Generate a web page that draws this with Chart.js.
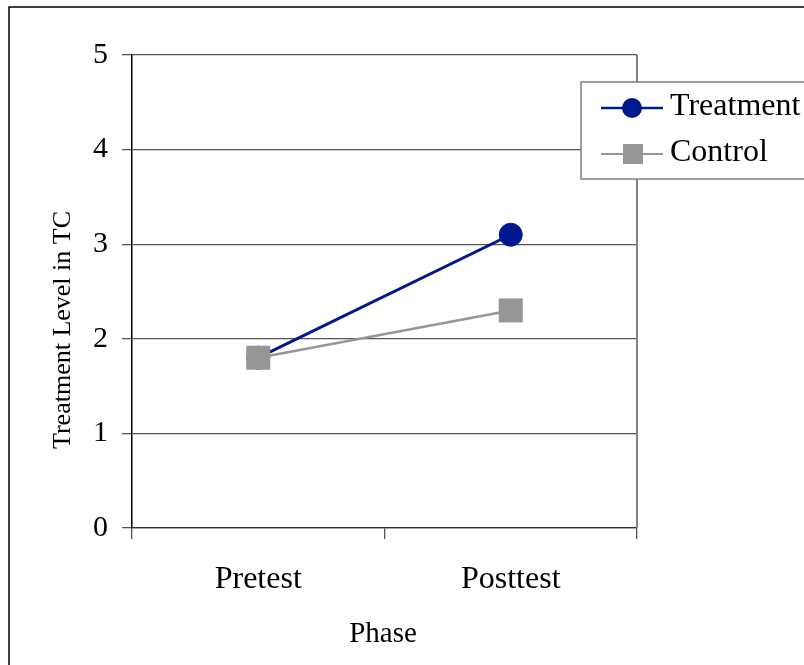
<!DOCTYPE html>
<html>
<head>
<meta charset="utf-8">
<script src="https://cdn.jsdelivr.net/npm/chart.js@4"></script>
<style>
  html, body { margin: 0; padding: 0; background: #fff; }
  #wrap { width: 804px; height: 665px; }
</style>
</head>
<body>
<div id="wrap"><canvas id="phaseChart" width="804" height="665"></canvas></div>
<script>
const phases = ['Pretest', 'Posttest'];
const treatmentValues = [1.8, 3.1];
const controlValues = [1.8, 2.3];
const yTicks = [0, 1, 2, 3, 4, 5];
const yTitle = 'Treatment Level in TC';
const xTitle = 'Phase';

const navy = '#00188f';
const gray = '#969696';
const serif = '"Liberation Serif", "Times New Roman", serif';

// frame, legend box and axis titles drawn on top
const framePlugin = {
  id: 'frame',
  afterDraw(chart) {
    const ctx = chart.ctx;
    const area = chart.chartArea;
    ctx.save();

    // outer border (only top and left show in the picture)
    ctx.strokeStyle = '#000';
    ctx.lineWidth = 1.5;
    ctx.beginPath();
    ctx.moveTo(9, 670);
    ctx.lineTo(9, 7);
    ctx.lineTo(810, 7);
    ctx.stroke();

    // right edge of plot area
    ctx.strokeStyle = '#808080';
    ctx.lineWidth = 2;
    ctx.beginPath();
    ctx.moveTo(area.right, area.top);
    ctx.lineTo(area.right, area.bottom);
    ctx.stroke();

    // legend
    ctx.fillStyle = '#fff';
    ctx.fillRect(581, 82, 240, 97);
    ctx.strokeStyle = '#808080';
    ctx.lineWidth = 1.5;
    ctx.strokeRect(581, 82, 240, 97);

    ctx.font = '32px ' + serif;
    ctx.textBaseline = 'middle';
    ctx.textAlign = 'left';

    ctx.strokeStyle = navy;
    ctx.lineWidth = 2.5;
    ctx.beginPath();
    ctx.moveTo(601, 108);
    ctx.lineTo(663, 108);
    ctx.stroke();
    ctx.fillStyle = navy;
    ctx.beginPath();
    ctx.arc(632, 108, 10, 0, Math.PI * 2);
    ctx.fill();
    ctx.fillStyle = '#000';
    ctx.fillText(chart.data.datasets[0].label, 670, 107);

    ctx.strokeStyle = gray;
    ctx.lineWidth = 2;
    ctx.beginPath();
    ctx.moveTo(601, 154);
    ctx.lineTo(663, 154);
    ctx.stroke();
    ctx.fillStyle = gray;
    ctx.fillRect(623, 144, 20, 20);
    ctx.fillStyle = '#000';
    ctx.fillText(chart.data.datasets[1].label, 670, 153);

    // axis titles
    ctx.textAlign = 'center';
    ctx.font = '29px ' + serif;
    ctx.fillText(xTitle, 383, 634);
    ctx.font = '26px ' + serif;
    ctx.translate(63, 330);
    ctx.rotate(-Math.PI / 2);
    ctx.fillText(yTitle, 0, 0);

    ctx.restore();
  }
};

const ctx = document.getElementById('phaseChart').getContext('2d');

const myChart = new Chart(ctx, {
  type: 'line',
  data: {
    labels: phases,
    datasets: [{
      label: 'Treatment',
      data: treatmentValues,
      borderColor: navy,
      backgroundColor: navy,
      borderWidth: 3,
      pointStyle: 'circle',
      pointRadius: 11.5,
      pointBorderWidth: 1,
      pointBorderColor: navy,
      pointBackgroundColor: navy,
      tension: 0,
      order: 1
    }, {
      label: 'Control',
      data: controlValues,
      borderColor: gray,
      backgroundColor: gray,
      borderWidth: 2.5,
      pointStyle: 'rect',
      pointRadius: 17,
      pointBorderWidth: 0,
      pointBackgroundColor: gray,
      tension: 0,
      order: 0
    }]
  },
  options: {
    responsive: false,
    devicePixelRatio: 1,
    animation: false,
    layout: { padding: { top: 55, right: 167, left: 0, bottom: 0 } },
    plugins: {
      legend: { display: false },
      tooltip: { enabled: false }
    },
    scales: {
      x: {
        offset: true,
        grid: {
          offset: true,
          drawOnChartArea: false,
          drawTicks: true,
          tickLength: 11,
          color: '#555',
          lineWidth: 1.3
        },
        border: { color: '#333', width: 1.3 },
        ticks: {
          color: '#000',
          font: { family: serif, size: 32 },
          padding: 21,
          maxRotation: 0
        },
        afterFit(scale) { scale.height = 137; }
      },
      y: {
        min: 0,
        max: 5,
        afterBuildTicks(scale) {
          scale.ticks = yTicks.map(v => ({ value: v }));
        },
        grid: {
          color: '#555',
          lineWidth: 1.3,
          drawTicks: true,
          tickLength: 10
        },
        border: { color: '#000', width: 1.5 },
        ticks: {
          color: '#000',
          font: { family: serif, size: 30 },
          padding: 14
        },
        afterFit(scale) { scale.width = 132; }
      }
    }
  },
  plugins: [framePlugin]
});
</script>
</body>
</html>
